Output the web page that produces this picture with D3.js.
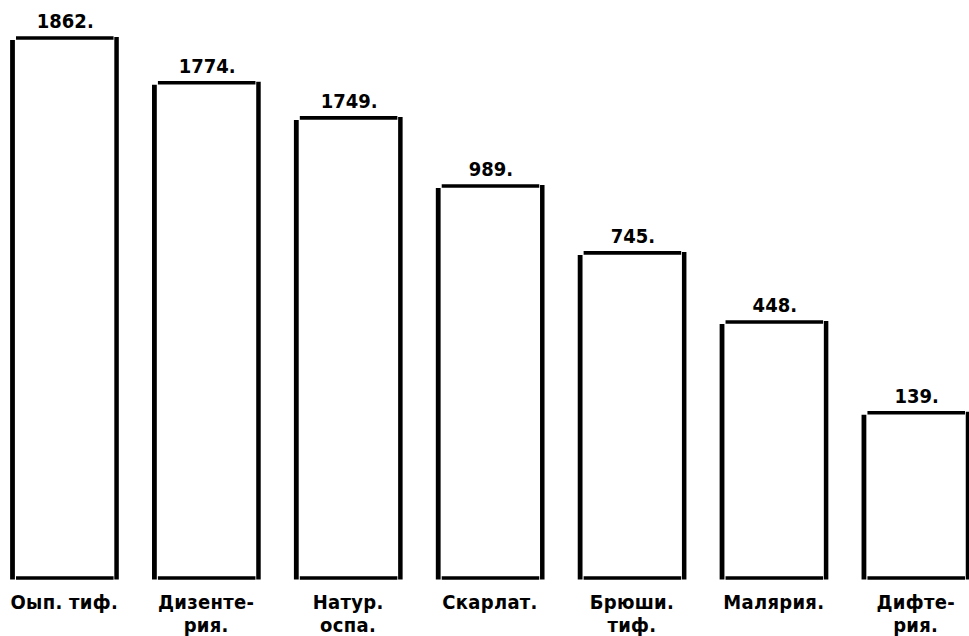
<!DOCTYPE html>
<html>
<head>
<meta charset="utf-8">
<script src="https://cdn.jsdelivr.net/npm/d3@7"></script>
<style>
  html, body { margin: 0; padding: 0; background: #fff; }
  svg { display: block; }
  text { font-family: "DejaVu Sans Condensed", "DejaVu Sans", sans-serif; font-stretch: condensed; font-weight: bold; fill: #000; }
</style>
</head>
<body>
<svg id="chart" width="969" height="636"></svg>
<script>
// Data
const categories = ["Оып. тиф.", "Дизенте-|рия.", "Натур.|оспа.", "Скарлат.", "Брюши.|тиф.", "Малярия.", "Дифте-|рия."];
const values = [1862, 1774, 1749, 989, 745, 448, 139];
const valueLabels = ["1862.", "1774.", "1749.", "989.", "745.", "448.", "139."];
// drawn bar heights (not proportional to the values), % of tallest bar
const barLevels = [100, 91.7, 85.2, 72.6, 60.2, 47.4, 30.6];

const svg = d3.select("#chart");
const x = d3.scaleBand().domain(categories).range([10, 970]).paddingInner(0.235).paddingOuter(0);
const y = d3.scaleLinear().domain([0, 100]).range([578, 38]);
const bw = x.bandwidth();

const bars = svg.append("g").selectAll("g.bar")
  .data(categories.map((c, i) => ({c, v: values[i], lvl: barLevels[i], lab: valueLabels[i]})))
  .enter().append("g").attr("class", "bar");

// left side
bars.append("line")
  .attr("x1", d => x(d.c) + 2.5).attr("x2", d => x(d.c) + 2.5)
  .attr("y1", d => y(d.lvl) + 2).attr("y2", y(0) + 1.5)
  .attr("stroke", "#000").attr("stroke-width", 4.8);
// right side
bars.append("line")
  .attr("x1", d => x(d.c) + bw - 2).attr("x2", d => x(d.c) + bw - 2)
  .attr("y1", d => y(d.lvl) - 1).attr("y2", y(0) + 1.5)
  .attr("stroke", "#000").attr("stroke-width", 4.5);
// top
bars.append("line")
  .attr("x1", d => x(d.c) + 6).attr("x2", d => x(d.c) + bw - 5)
  .attr("y1", d => y(d.lvl)).attr("y2", d => y(d.lvl))
  .attr("stroke", "#000").attr("stroke-width", 3.6);
// bottom
bars.append("line")
  .attr("x1", d => x(d.c) + 6).attr("x2", d => x(d.c) + bw - 5)
  .attr("y1", y(0)).attr("y2", y(0))
  .attr("stroke", "#000").attr("stroke-width", 3.6);

// value labels
bars.append("text")
  .attr("x", d => x(d.c) + bw / 2 + 1)
  .attr("y", d => y(d.lvl) - 10)
  .attr("text-anchor", "middle")
  .attr("font-size", 20)
  .text(d => d.lab);

// category labels
bars.each(function(d) {
  const lines = d.c.split("|");
  const t = d3.select(this).append("text")
    .attr("text-anchor", "middle")
    .attr("font-size", 20)
    .style("letter-spacing", "0.3px");
  lines.forEach((ln, k) => {
    t.append("tspan").attr("x", x(d.c) + bw / 2).attr("y", 609 + k * 23).text(ln);
  });
});
</script>
</body>
</html>
